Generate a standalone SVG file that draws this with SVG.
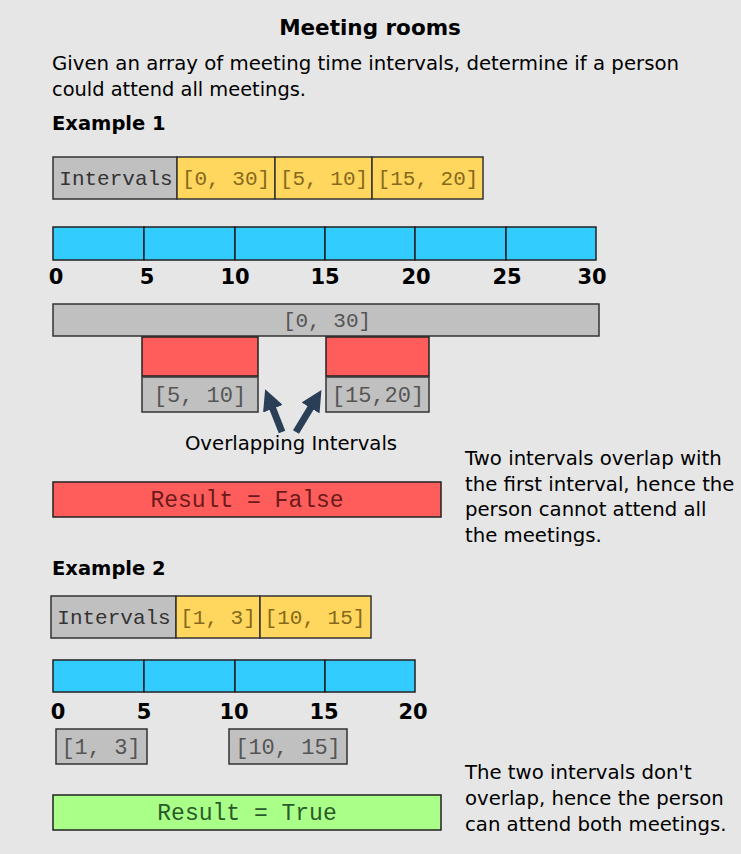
<svg xmlns="http://www.w3.org/2000/svg" width="741" height="854" viewBox="0 0 741 854">
<defs>
<style>
.sans{font-family:"DejaVu Sans",Verdana,sans-serif;fill:#000}
.title{font-size:21.5px;font-weight:bold}
.body{font-size:19.7px}
.ex{font-size:19.5px;font-weight:bold}
.tick{font-family:"DejaVu Sans",Verdana,sans-serif;font-size:21px;font-weight:bold;fill:#000;text-anchor:middle}
.mono{font-family:"Liberation Mono","Courier New",monospace;font-size:21px;text-anchor:middle}
.m22{font-size:22px}
.m23{font-size:23px}
.gray{fill:#c0c0c0;stroke:#333;stroke-width:1.5}
.yel{fill:#ffd75e;stroke:#333;stroke-width:1.5}
.blue{fill:#33ccff;stroke:#222;stroke-width:1.5}
.red{fill:#ff5c5c;stroke:#222;stroke-width:1.5}
.green{fill:#aaff88;stroke:#222;stroke-width:1.5}
.tg{fill:#555}
.ty{fill:#86691c}
.tr{fill:#6b1a1a}
.tgr{fill:#2a5a2a}
.arrow{stroke:#2a3f56;stroke-width:7;fill:none;marker-end:url(#ah)}
</style>
<marker id="ah" viewBox="0 0 10 10" refX="5" refY="5" markerWidth="3" markerHeight="3" orient="auto" markerUnits="strokeWidth">
<path d="M0,0 L10,5 L0,10 z" fill="#2a3f56"/>
</marker>
</defs>
<rect width="741" height="854" fill="#e6e6e6"/>

<g id="header">
<text class="sans title" x="370" y="35" text-anchor="middle">Meeting rooms</text>
<text class="sans body" x="52" y="70" textLength="627" lengthAdjust="spacingAndGlyphs">Given an array of meeting time intervals, determine if a person</text>
<text class="sans body" x="52" y="96" textLength="254" lengthAdjust="spacingAndGlyphs">could attend all meetings.</text>
<text class="sans ex" x="52" y="130">Example 1</text>
</g>

<g id="ex1-intervals">
<rect class="gray" x="53" y="157" width="124" height="42"/>
<rect class="yel" x="177" y="157" width="98" height="42"/>
<rect class="yel" x="275" y="157" width="97" height="42"/>
<rect class="yel" x="372" y="157" width="111" height="42"/>
<text class="mono" x="116" y="185" fill="#333">Intervals</text>
<text class="mono ty" x="226" y="185">[0, 30]</text>
<text class="mono ty" x="324" y="185">[5, 10]</text>
<text class="mono ty" x="428" y="185">[15, 20]</text>
</g>

<g id="ex1-axis">
<rect class="blue" x="53" y="227" width="91" height="33"/>
<rect class="blue" x="144" y="227" width="91" height="33"/>
<rect class="blue" x="235" y="227" width="90" height="33"/>
<rect class="blue" x="325" y="227" width="90" height="33"/>
<rect class="blue" x="415" y="227" width="91" height="33"/>
<rect class="blue" x="506" y="227" width="90" height="33"/>
<text class="tick" x="56" y="284">0</text>
<text class="tick" x="147" y="284">5</text>
<text class="tick" x="235" y="284">10</text>
<text class="tick" x="325" y="284">15</text>
<text class="tick" x="416" y="284">20</text>
<text class="tick" x="507" y="284">25</text>
<text class="tick" x="592" y="284">30</text>
</g>

<g id="ex1-bar">
<rect class="gray" x="53" y="304" width="546" height="32"/>
<text class="mono tg" x="327" y="327">[0, 30]</text>
</g>

<g id="ex1-overlap1">
<rect class="red" x="142" y="337" width="116" height="39"/>
<rect class="gray" x="142" y="377" width="116" height="35"/>
<text class="mono m22 tg" x="200" y="402">[5, 10]</text>
</g>
<g id="ex1-overlap2">
<rect class="red" x="326" y="337" width="103" height="39"/>
<rect class="gray" x="326" y="377" width="103" height="35"/>
<text class="mono m22 tg" x="378" y="402">[15,20]</text>
</g>

<g id="connectors">
<line class="arrow" x1="282" y1="432" x2="269" y2="399"/>
<line class="arrow" x1="296" y1="432" x2="316" y2="399"/>
</g>

<g id="ex1-notes">
<text class="sans body" x="291" y="450" text-anchor="middle">Overlapping Intervals</text>
<text class="sans body" x="465" y="465">Two intervals overlap with</text>
<text class="sans body" x="465" y="491">the first interval, hence the</text>
<text class="sans body" x="465" y="516">person cannot attend all</text>
<text class="sans body" x="465" y="542">the meetings.</text>
</g>

<g id="ex1-result">
<rect class="red" x="53" y="482" width="388" height="35"/>
<text class="mono m23 tr" x="247" y="507">Result = False</text>
</g>

<g id="ex2-title">
<text class="sans ex" x="52" y="575">Example 2</text>
</g>

<g id="ex2-intervals">
<rect class="gray" x="51" y="596" width="125" height="42"/>
<rect class="yel" x="176" y="596" width="84" height="42"/>
<rect class="yel" x="260" y="596" width="111" height="42"/>
<text class="mono" x="114" y="624" fill="#333">Intervals</text>
<text class="mono ty" x="218" y="624">[1, 3]</text>
<text class="mono ty" x="315" y="624">[10, 15]</text>
</g>

<g id="ex2-axis">
<rect class="blue" x="53" y="660" width="91" height="32"/>
<rect class="blue" x="144" y="660" width="91" height="32"/>
<rect class="blue" x="235" y="660" width="90" height="32"/>
<rect class="blue" x="325" y="660" width="90" height="32"/>
<text class="tick" x="58" y="719">0</text>
<text class="tick" x="144" y="719">5</text>
<text class="tick" x="234" y="719">10</text>
<text class="tick" x="324" y="719">15</text>
<text class="tick" x="413" y="719">20</text>
</g>

<g id="ex2-i1">
<rect class="gray" x="56" y="729" width="91" height="35"/>
<text class="mono m22 tg" x="101" y="754">[1, 3]</text>
</g>
<g id="ex2-i2">
<rect class="gray" x="229" y="729" width="118" height="35"/>
<text class="mono m22 tg" x="288" y="754">[10, 15]</text>
</g>

<g id="ex2-notes">
<text class="sans body" x="465" y="779">The two intervals don't</text>
<text class="sans body" x="465" y="805">overlap, hence the person</text>
<text class="sans body" x="465" y="831">can attend both meetings.</text>
</g>

<g id="ex2-result">
<rect class="green" x="53" y="795" width="388" height="35"/>
<text class="mono m23 tgr" x="247" y="820">Result = True</text>
</g>
</svg>
